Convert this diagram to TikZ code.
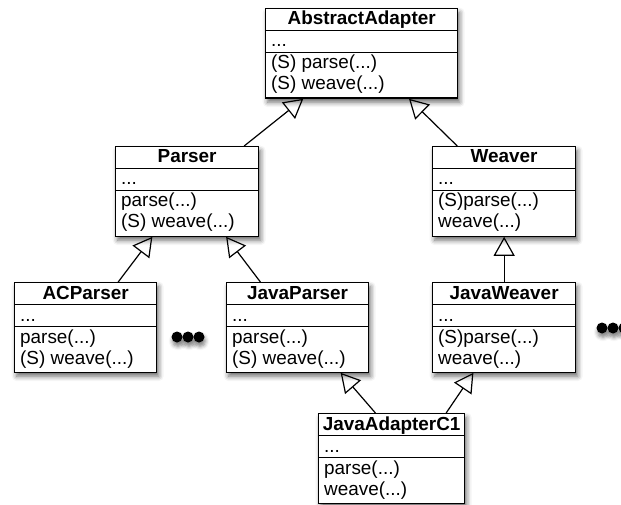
\documentclass[tikz,border=0pt]{standalone}
\usepackage{fontspec}
\setmainfont{Liberation Sans}
\usetikzlibrary{arrows.meta,calc,shadows.blur}
\tikzset{
  myshadow/.style={blur shadow={shadow xshift=2pt, shadow yshift=-4pt, shadow blur radius=5pt, shadow opacity=60}},
  clsbox/.style={draw, line width=1.3pt, fill=white, inner sep=0pt, minimum height=89.5pt, myshadow},
  clsline/.style={line width=1.3pt},
  titletext/.style={anchor=base, inner sep=0pt, font=\fontsize{18.9pt}{22pt}\selectfont\bfseries},
  rowtext/.style={anchor=base west, inner sep=0pt, font=\fontsize{18.9pt}{22pt}\selectfont},
  inh/.style={line width=1.2pt, -{Triangle[open, length=19pt, width=21pt, line width=1.2pt]}},
  blackdot/.style={circle, fill=black, minimum size=11pt, inner sep=0pt, blur shadow={shadow xshift=1pt, shadow yshift=-4pt, shadow blur radius=4pt, shadow opacity=50}},
}
\newcommand\umlcls[8]{%
  \node[clsbox, minimum width=#4pt, anchor=north west] (#1) at (#2,#3) {};
  \draw[clsline] ($(#1.north west)+(0,22.5)$) -- ($(#1.north east)+(0,22.5)$);
  \draw[clsline] ($(#1.north west)+(0,44.5)$) -- ($(#1.north east)+(0,44.5)$);
  \node[titletext] (#1-title) at ($(#1.north)+(0,17)$) {#5};
  \node[rowtext] (#1-attr) at ($(#1.north west)+(6,39)$) {#6};
  \node[rowtext] (#1-m1) at ($(#1.north west)+(6,61)$) {#7};
  \node[rowtext] (#1-m2) at ($(#1.north west)+(6,82)$) {#8};
}
\begin{document}
\begin{tikzpicture}[x=1pt,y=-1pt]
\useasboundingbox (0,0) rectangle (621,505);
\umlcls{abstract}{265}{8}{192}{AbstractAdapter}{...}{(S) parse(...)}{(S) weave(...)}
\umlcls{parser}{115}{146}{143}{Parser}{...}{parse(...)}{(S) weave(...)}
\umlcls{weaver}{432}{146}{143}{Weaver}{...}{(S)parse(...)}{weave(...)}
\umlcls{acparser}{14}{282}{142}{ACParser}{...}{parse(...)}{(S) weave(...)}
\umlcls{javaparser}{226}{282}{142}{JavaParser}{...}{parse(...)}{(S) weave(...)}
\umlcls{javaweaver}{432}{282}{143}{JavaWeaver}{...}{(S)parse(...)}{weave(...)}
\umlcls{jac}{318}{413}{146}{JavaAdapterC1}{...}{parse(...)}{weave(...)}

\draw[inh] ($(parser.north west)!0.895!(parser.north east)$) -- ($(abstract.south west)!0.198!(abstract.south east)$);
\draw[inh] ($(weaver.north west)!0.175!(weaver.north east)$) -- ($(abstract.south west)!0.745!(abstract.south east)$);
\draw[inh] ($(acparser.north west)!0.727!(acparser.north east)$) -- ($(parser.south west)!0.259!(parser.south east)$);
\draw[inh] ($(javaparser.north west)!0.24!(javaparser.north east)$) -- ($(parser.south west)!0.77!(parser.south east)$);
\draw[inh] (javaweaver.north) -- (weaver.south);
\draw[inh] ($(jac.north west)!0.39!(jac.north east)$) -- ($(javaparser.south west)!0.80!(javaparser.south east)$);
\draw[inh] ($(jac.north west)!0.87!(jac.north east)$) -- ($(javaweaver.south west)!0.287!(javaweaver.south east)$);

\node[blackdot] (dl1) at (177,337) {};
\node[blackdot] (dl2) at (188,337) {};
\node[blackdot] (dl3) at (199,337) {};
\begin{scope}
\clip (0,0) rectangle (621,505);
\node[blackdot] (dr1) at (602,328) {};
\node[blackdot] (dr2) at (613,328) {};
\node[blackdot] (dr3) at (624,328) {};
\end{scope}
\end{tikzpicture}
\end{document}
